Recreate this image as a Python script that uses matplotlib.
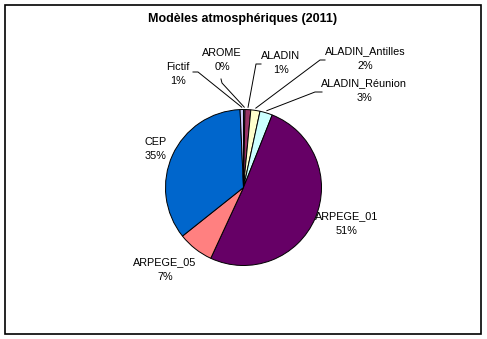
import numpy as np
import matplotlib
matplotlib.use("Agg")
import matplotlib.pyplot as plt
from matplotlib.patches import Rectangle

# Données (ordre Excel, sens horaire depuis midi)
categories = ["AROME", "ALADIN", "ALADIN_Antilles", "ALADIN_Réunion",
              "ARPEGE_01", "ARPEGE_05", "CEP", "Fictif"]
parts = [0.3, 1.2, 1.9, 2.6, 50.9, 7.4, 35.0, 0.7]
couleurs = ["#9999FF", "#993366", "#FFFFCC", "#CCFFFF",
            "#660066", "#FF8080", "#0066CC", "#CCCCFF"]
titre = "Modèles atmosphériques (2011)"

W, H = 487, 339
cx, cy, R = 243.5, 187.5, 78.0   # centre et rayon du camembert en pixels


def px(x, y):
    # pixels -> coordonnées du camembert (rayon 1)
    return (x - cx) / R, (cy - y) / R


# position des étiquettes (centre du texte) et départ des traits de rappel, en pixels
pos_etiquettes = {
    "AROME": (222, 60), "ALADIN": (281, 63), "ALADIN_Antilles": (365, 59),
    "ALADIN_Réunion": (364, 91), "ARPEGE_01": (347, 224), "ARPEGE_05": (165, 270),
    "CEP": (156, 149), "Fictif": (178, 74),
}
traits = {
    "Fictif": [(193, 72), (198, 72)],
    "AROME": [(221, 79), (222, 83)],
    "ALADIN": [(261, 64), (256, 64)],
    "ALADIN_Antilles": [(325, 60), (320, 60)],
    "ALADIN_Réunion": [(322, 92), (315, 92)],
}

plt.rcParams['font.family'] = ['Liberation Sans', 'DejaVu Sans']

fig = plt.figure(figsize=(W / 100, H / 100), dpi=100)
fig.patch.set_facecolor("white")
ax = fig.add_axes([0, 0, 1, 1])

wedges, _ = ax.pie(parts, colors=couleurs, startangle=90, counterclock=False,
                   radius=1, center=(0, 0), frame=True,
                   wedgeprops=dict(edgecolor="black", linewidth=0.7))
ax.set_xlim(-cx / R, (W - cx) / R)
ax.set_ylim(-(H - cy) / R, cy / R)
ax.set_aspect("auto")
ax.axis("off")

total = sum(parts)
for w, nom, v in zip(wedges, categories, parts):
    tx, ty = px(*pos_etiquettes[nom])
    ax.text(tx, ty, f"{nom}\n{round(100 * v / total):.0f}%", ha="center", va="center",
            fontsize=7.8, linespacing=1.6, color="black")
    if nom in traits:
        a = np.deg2rad((w.theta1 + w.theta2) / 2)
        bout = (1.03 * np.cos(a), 1.03 * np.sin(a))
        pts = [px(*p) for p in traits[nom]] + [bout]
        ax.plot([p[0] for p in pts], [p[1] for p in pts], color="black", lw=0.7)

fig.text(243 / W, 1 - 19 / H, titre, ha="center", va="center",
         fontsize=9, fontweight="bold")

fig.patches.append(Rectangle((5 / W, 1 - 334 / H), 476 / W, 329 / H,
                             transform=fig.transFigure, fill=False,
                             edgecolor="black", linewidth=1.2))

fig.savefig("out.png", dpi=100)
